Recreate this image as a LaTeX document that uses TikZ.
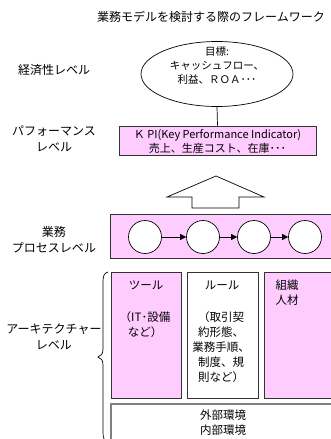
\documentclass[tikz,border=0pt]{standalone}
\usepackage{fontspec}
\setmainfont{Noto Sans CJK JP}
\usetikzlibrary{shapes.geometric,arrows.meta}
\definecolor{pinkfill}{HTML}{FFCCFF}
\definecolor{boxline}{HTML}{333333}
\tikzset{
  txt/.style={font=\fontsize{11.5}{15}\selectfont, align=center, inner sep=0pt},
  lbl/.style={font=\fontsize{12}{16}\selectfont, align=center, inner sep=0pt},
  pbox/.style={draw=boxline, line width=0.8pt, fill=pinkfill},
  wbox/.style={draw=boxline, line width=0.8pt, fill=white},
  proc/.style={circle, draw=black, line width=0.7pt, fill=white, minimum size=33pt, inner sep=0pt},
  flow/.style={-{Triangle[length=6pt,width=6pt]}, line width=0.6pt},
}
\begin{document}
\begin{tikzpicture}[x=1pt,y=-1pt]
\useasboundingbox (0,0) rectangle (331,439);
% title
\node[lbl] (title) at (211,17) {業務モデルを検討する際のフレームワーク};
% left labels
\node[lbl] (l1) at (54,70) {経済性レベル};
\node[lbl] (l2) at (54,139) {パフォーマンス\\レベル};
\node[lbl] (l3) at (54,240) {業務\\プロセスレベル};
\node[lbl] (l4) at (54,337) {アーキテクチャー\\レベル};
% goal ellipse
\node[ellipse, draw=black, line width=0.7pt, minimum width=152pt, minimum height=65pt, inner sep=0pt] (goal) at (217,74) {};
\node[txt, font=\fontsize{10.5}{14}\selectfont] (goaltext) at (217,66) {目標:\\キャッシュフロー、\\利益、ＲＯＡ･･･};
% KPI box
\node[pbox, minimum width=197pt, minimum height=29pt, inner sep=0pt] (kpi) at (217.5,140.5) {};
\node[txt, font=\fontsize{11}{14}\selectfont] (kpitext) at (217.5,141) {Ｋ PI(Key Performance Indicator)\\売上、生産コスト、在庫･･･};
\draw[line width=0.7pt] (goal.south) -- (kpi.north);
% big up arrow
\draw[line width=0.7pt, fill=white] (216,176) -- (264,197) -- (239,197) -- (239,208) -- (192,208) -- (192,197) -- (167,197) -- cycle;
% process box
\node[pbox, minimum width=221pt, minimum height=44pt, inner sep=0pt] (procbox) at (220.5,236) {};
\node[proc] (c1) at (145,237) {};
\node[proc] (c2) at (203,237) {};
\node[proc] (c3) at (254,237) {};
\node[proc] (c4) at (305,237) {};
\draw[flow] (c1) -- (c2);
\draw[flow] (c2) -- (c3);
\draw[flow] (c3) -- (c4);
% architecture boxes
\draw[pbox] (111,272) rectangle (181,398);
\draw[wbox] (187,272) rectangle (258,398);
\draw[pbox] (264,272) rectangle (336,398);
\draw[draw=black!50, line width=1.2pt, fill=white] (111,404) rectangle (336,445);
\node[txt] (tool) at (146,285) {ツール};
\node[txt] (tooltext) at (145,324.5) {（IT･設備\\など）};
\node[txt] (rule) at (222,285) {ルール};
\node[txt] (ruletext) at (221,347) {（取引契\\約形態、\\業務手順、\\制度、規\\則など）};
\node[txt] (org) at (287,293) {組織\\人材};
\node[txt] (env) at (223,422.5) {外部環境\\内部環境};
% brace
\draw[line width=0.7pt] (108,272) .. controls (104,273) and (103,276) .. (103,282)
  -- (103,349) .. controls (103,354) and (101,356) .. (98,357)
  .. controls (101,358) and (103,360) .. (103,365)
  -- (103,432) .. controls (103,438) and (104,441) .. (108,442);
\end{tikzpicture}
\end{document}
